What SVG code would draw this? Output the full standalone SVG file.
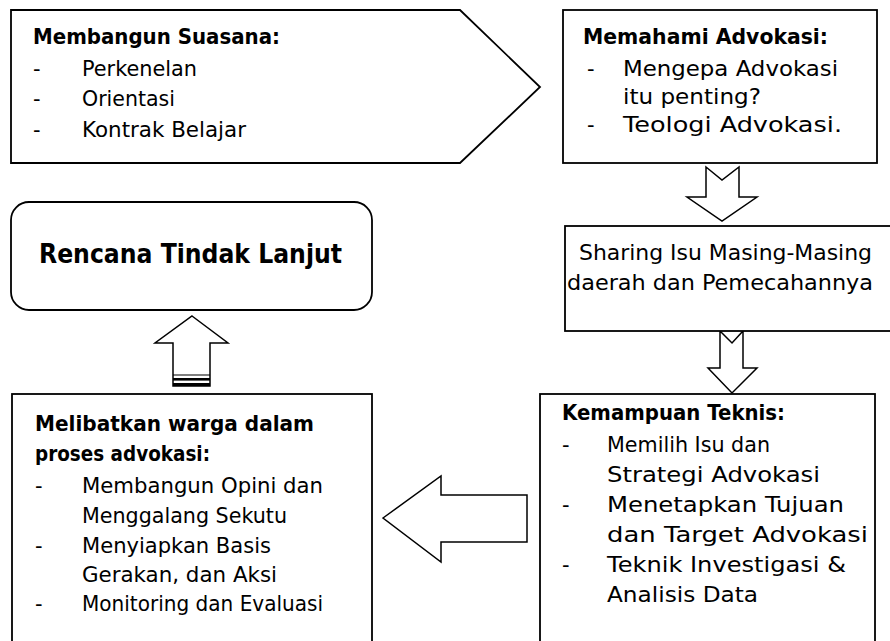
<svg xmlns="http://www.w3.org/2000/svg" width="890" height="641" viewBox="0 0 890 641">
<style>
.box{fill:#fff;stroke:#000;stroke-width:1.8}
.arr{fill:#fff;stroke:#000;stroke-width:1.5;stroke-linejoin:miter}
text{font-family:"DejaVu Sans","Liberation Sans",sans-serif;font-size:21px;fill:#000}
.b{font-weight:bold}
.big{font-size:27px;font-weight:bold}
</style>
<rect width="890" height="641" fill="#fff"/>

<g id="connectors">
  <polygon class="arr" points="706,167 722,180 739,167 739,197 757,197 722,221 687,197 706,197"/>
  <polygon class="arr" points="720,331 732,343 743,331 743,368 757,368 732,393 708,368 720,368"/>
  <polygon class="arr" points="383,518 441,476 441,495 527,495 527,542 441,542 441,562"/>
  <g id="up-arrow">
    <polygon class="arr" points="192,316 228,343 210,343 210,386 173,386 173,343 155,343"/>
    <line x1="173" y1="375" x2="210" y2="375" stroke="#000" stroke-width="1.2"/>
    <rect x="173" y="378" width="37" height="2.6" fill="#000"/>
    <rect x="173" y="383" width="37" height="3" fill="#000"/>
  </g>
</g>

<g id="membangun-suasana">
  <polygon class="box" points="11,10 460,10 540,87 460,163 11,163"/>
  <text class="b" x="33" y="44" textLength="247" lengthAdjust="spacingAndGlyphs">Membangun Suasana:</text>
  <text x="33" y="76">-</text><text x="82" y="76" textLength="115" lengthAdjust="spacingAndGlyphs">Perkenelan</text>
  <text x="33" y="106">-</text><text x="82" y="106" textLength="93" lengthAdjust="spacingAndGlyphs">Orientasi</text>
  <text x="33" y="137">-</text><text x="82" y="137" textLength="164" lengthAdjust="spacingAndGlyphs">Kontrak Belajar</text>
</g>

<g id="memahami-advokasi">
  <rect class="box" x="563" y="10" width="314" height="153"/>
  <text class="b" x="583" y="44" textLength="245" lengthAdjust="spacingAndGlyphs">Memahami Advokasi:</text>
  <text x="587" y="76">-</text><text x="623" y="76" textLength="215" lengthAdjust="spacingAndGlyphs">Mengepa Advokasi</text>
  <text x="623" y="104" textLength="138" lengthAdjust="spacingAndGlyphs">itu penting?</text>
  <text x="587" y="132">-</text><text x="623" y="132" textLength="219" lengthAdjust="spacingAndGlyphs">Teologi Advokasi.</text>
</g>

<g id="sharing-isu">
  <rect class="box" x="565" y="226" width="340" height="105"/>
  <text x="725.5" y="260" text-anchor="middle" textLength="293" lengthAdjust="spacingAndGlyphs">Sharing Isu Masing-Masing</text>
  <text x="720" y="290" text-anchor="middle" textLength="306" lengthAdjust="spacingAndGlyphs">daerah dan Pemecahannya</text>
</g>

<g id="rencana-tindak-lanjut">
  <rect class="box" x="11" y="202" width="361" height="108" rx="18" ry="18"/>
  <text class="big" x="190.5" y="263" text-anchor="middle" textLength="303" lengthAdjust="spacingAndGlyphs">Rencana Tindak Lanjut</text>
</g>

<g id="kemampuan-teknis">
  <rect class="box" x="540" y="394" width="335" height="260"/>
  <text class="b" x="562" y="420" textLength="223" lengthAdjust="spacingAndGlyphs">Kemampuan Teknis:</text>
  <text x="562" y="452">-</text><text x="607" y="452" textLength="163" lengthAdjust="spacingAndGlyphs">Memilih Isu dan</text>
  <text x="607" y="482" textLength="213" lengthAdjust="spacingAndGlyphs">Strategi Advokasi</text>
  <text x="562" y="512">-</text><text x="607" y="512" textLength="237" lengthAdjust="spacingAndGlyphs">Menetapkan Tujuan</text>
  <text x="607" y="542" textLength="261" lengthAdjust="spacingAndGlyphs">dan Target Advokasi</text>
  <text x="562" y="572">-</text><text x="607" y="572" textLength="239" lengthAdjust="spacingAndGlyphs">Teknik Investigasi &amp;</text>
  <text x="607" y="602" textLength="151" lengthAdjust="spacingAndGlyphs">Analisis Data</text>
</g>

<g id="melibatkan-warga">
  <rect class="box" x="12" y="394" width="360" height="260"/>
  <text class="b" x="35" y="431" textLength="279" lengthAdjust="spacingAndGlyphs">Melibatkan warga dalam</text>
  <text class="b" x="35" y="461" textLength="175" lengthAdjust="spacingAndGlyphs">proses advokasi:</text>
  <text x="35" y="493">-</text><text x="82" y="493" textLength="241" lengthAdjust="spacingAndGlyphs">Membangun Opini dan</text>
  <text x="82" y="523" textLength="205" lengthAdjust="spacingAndGlyphs">Menggalang Sekutu</text>
  <text x="35" y="553">-</text><text x="82" y="553" textLength="189" lengthAdjust="spacingAndGlyphs">Menyiapkan Basis</text>
  <text x="82" y="582" textLength="195" lengthAdjust="spacingAndGlyphs">Gerakan, dan Aksi</text>
  <text x="35" y="611">-</text><text x="82" y="611" textLength="241" lengthAdjust="spacingAndGlyphs">Monitoring dan Evaluasi</text>
</g>
</svg>
